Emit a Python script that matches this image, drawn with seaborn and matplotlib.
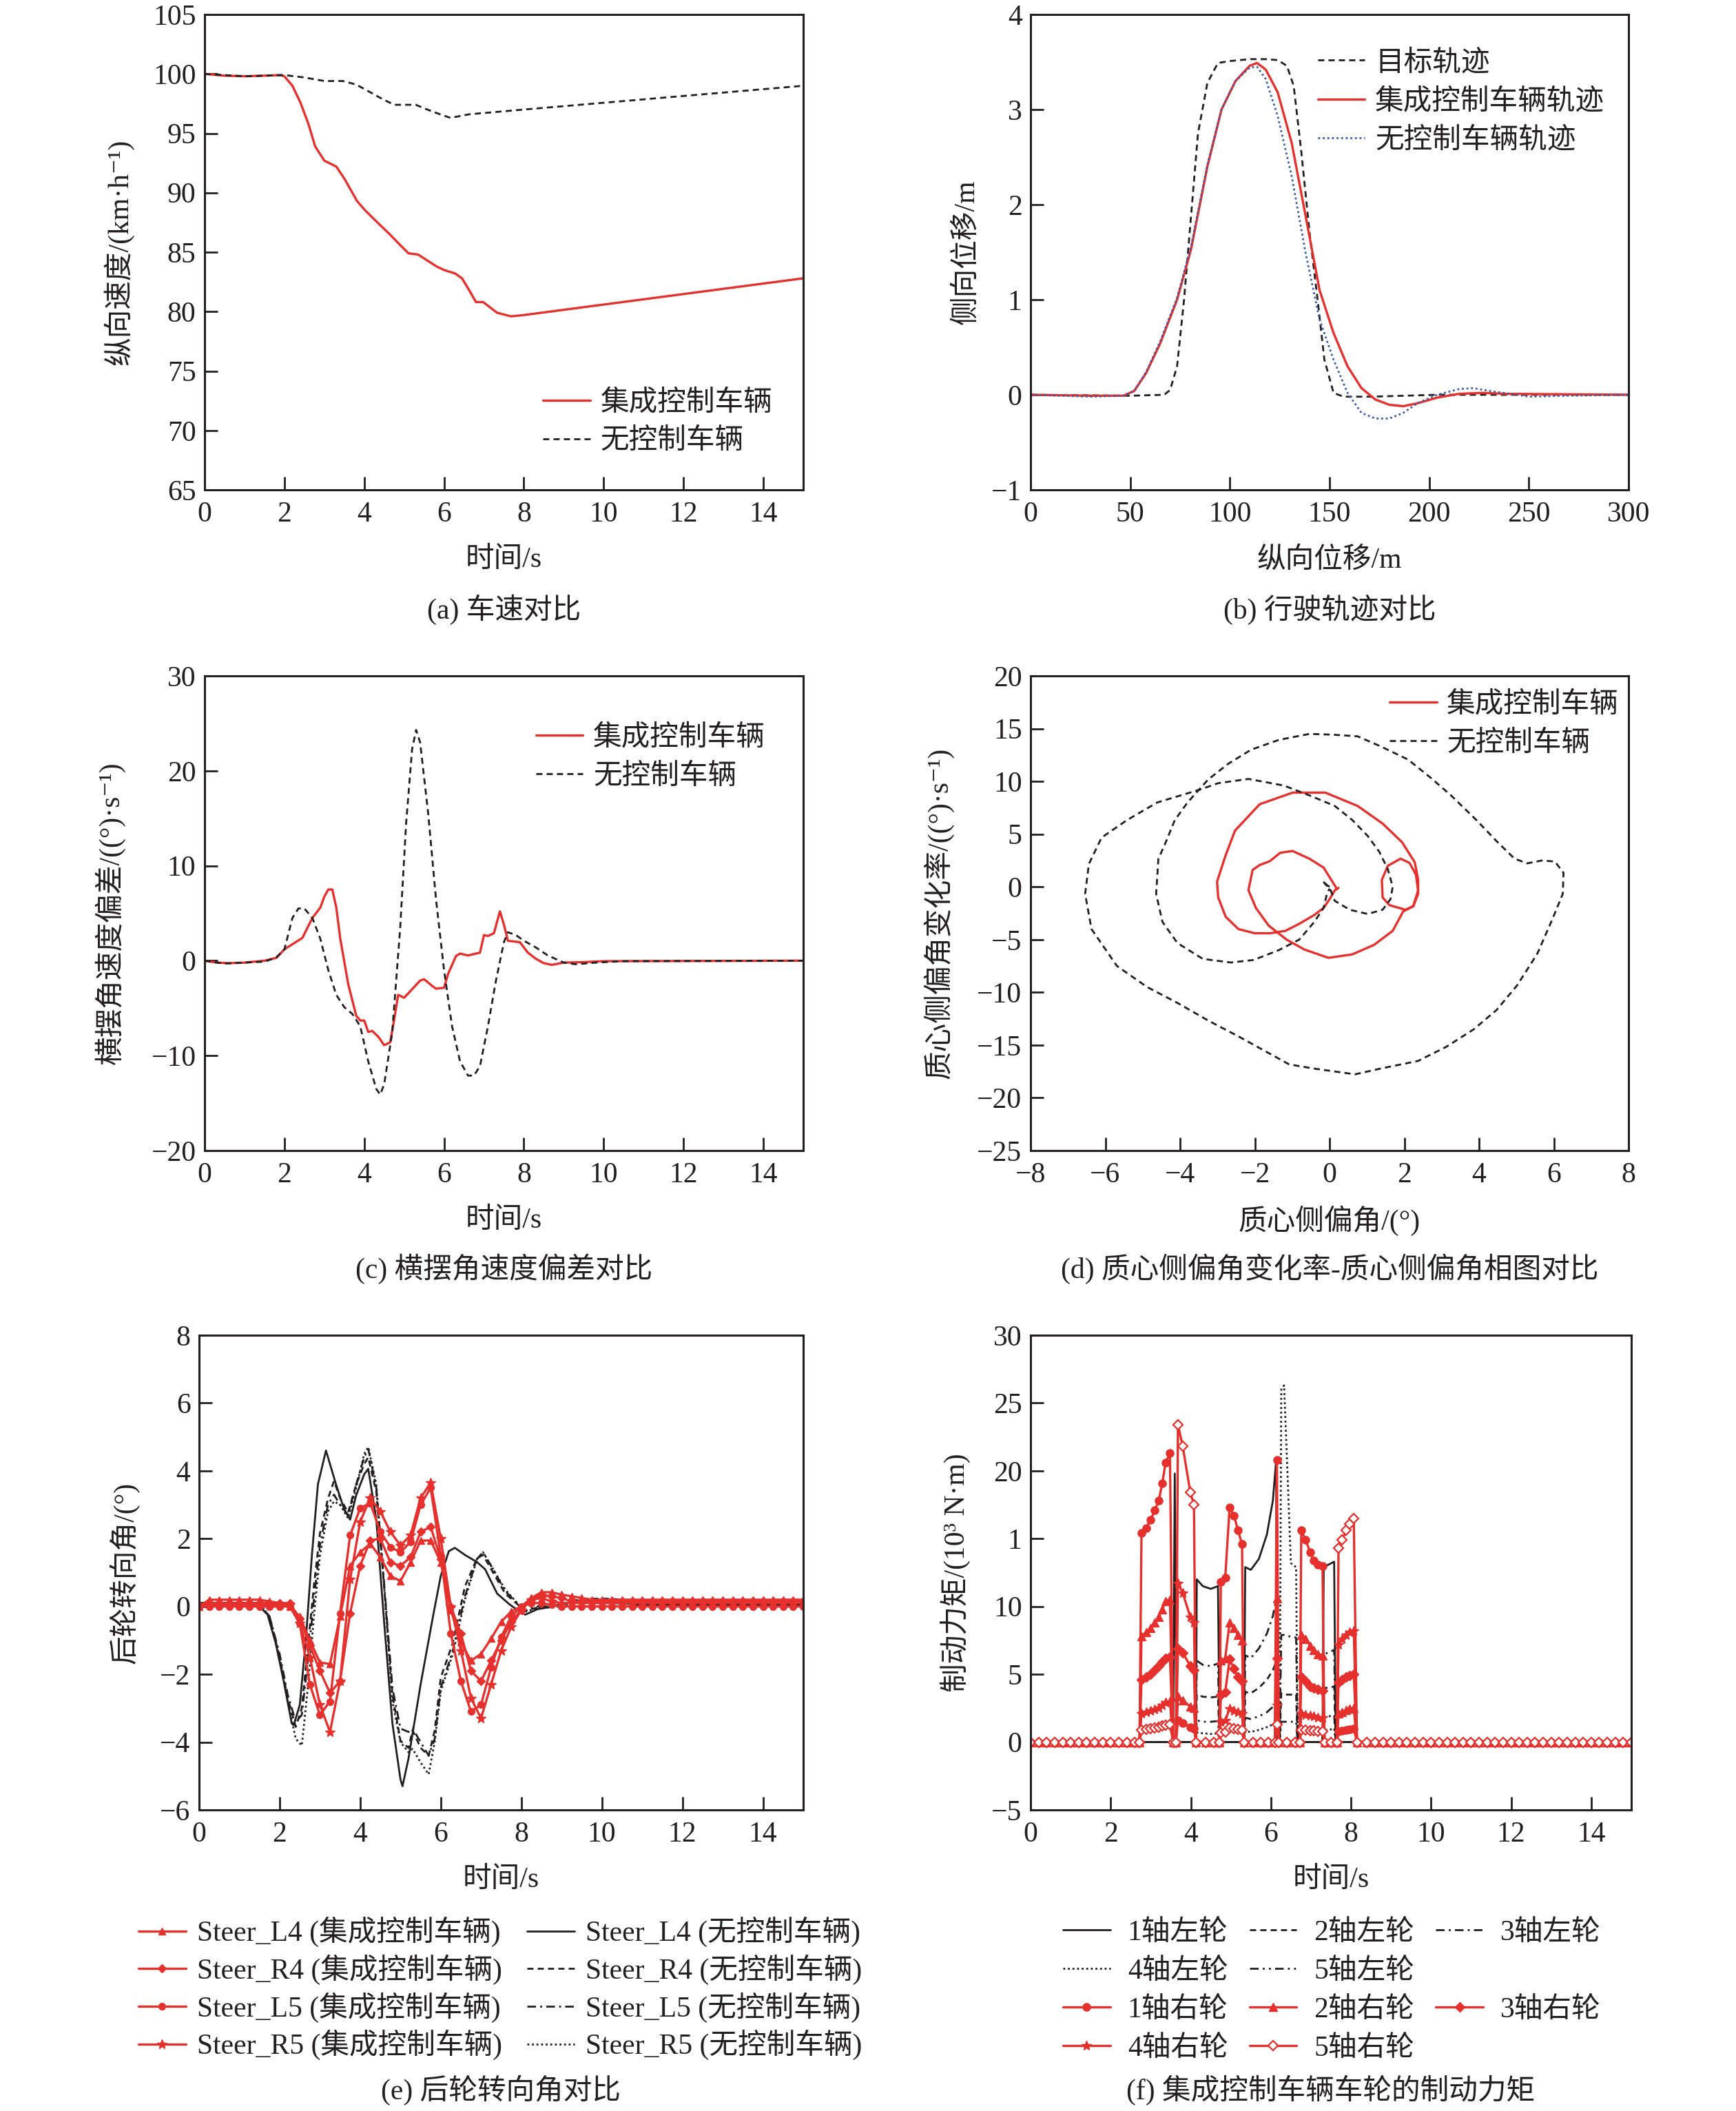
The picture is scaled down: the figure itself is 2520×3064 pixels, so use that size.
import numpy as np
import matplotlib
matplotlib.use('Agg')
import matplotlib.pyplot as plt
from matplotlib.lines import Line2D
import seaborn as sns

# ---------------- data ----------------
# (a) speed
a_t_ctrl = [0, 0.5, 1.0, 1.5, 1.9, 2.0, 2.2, 2.4, 2.6, 2.77, 3.0, 3.3, 3.5, 3.82, 4.0, 4.3, 4.64, 4.9, 5.11, 5.35, 5.81, 6.0, 6.28, 6.45, 6.63, 6.8, 6.98, 7.33, 7.68, 7.98, 15.0]
a_v_ctrl = [100.0, 99.85, 99.8, 99.85, 99.9, 99.8, 99.0, 97.6, 95.8, 93.9, 92.7, 92.2, 91.2, 89.3, 88.6, 87.6, 86.5, 85.6, 84.9, 84.8, 83.8, 83.5, 83.2, 82.8, 81.8, 80.8, 80.8, 79.9, 79.6, 79.7, 82.8]
a_t_none = [0, 1.0, 2.0, 2.5, 3.0, 3.47, 3.8, 4.18, 4.5, 4.76, 5.29, 5.58, 5.9, 6.16, 6.63, 8.0, 15.0]
a_v_none = [100.0, 99.8, 99.9, 99.7, 99.4, 99.4, 99.1, 98.4, 97.8, 97.4, 97.4, 97.0, 96.6, 96.3, 96.6, 97.0, 99.0]

# (b) trajectory
b_x_target = [0, 50, 67, 70, 73.5, 77, 80.5, 84, 88.7, 94, 100, 110, 118, 124, 128.6, 132, 135.7, 140, 144, 147.4, 152, 157, 171, 204, 300]
b_y_target = [0, -0.01, 0.0, 0.05, 0.3, 1.0, 1.88, 2.75, 3.28, 3.49, 3.51, 3.53, 3.53, 3.52, 3.46, 3.25, 2.58, 1.7, 1.0, 0.37, 0.02, -0.02, -0.02, 0.0, 0.0]
b_x_ctrl = [0, 30, 46.5, 52, 58, 65, 73.5, 80.5, 88.7, 95.8, 102.8, 109.9, 113.6, 118, 124, 131, 138, 145, 152, 159, 166, 173, 180, 187, 194, 204, 215, 227, 239, 300]
b_y_ctrl = [0, -0.01, -0.01, 0.04, 0.23, 0.54, 1.0, 1.53, 2.4, 3.0, 3.3, 3.46, 3.49, 3.42, 3.18, 2.65, 1.88, 1.1, 0.65, 0.3, 0.07, -0.05, -0.105, -0.12, -0.09, -0.03, 0.01, 0.02, 0.01, 0.0]
b_x_none = [0, 30, 46.5, 52, 58, 65, 73.5, 80.5, 88.7, 95.8, 102.8, 109.9, 113.6, 118, 124, 131, 138, 145, 152, 159, 166, 173, 180, 187, 194, 204, 215, 222, 232, 244, 250, 270, 300]
b_y_none = [0, -0.02, -0.01, 0.04, 0.24, 0.56, 1.02, 1.56, 2.42, 3.0, 3.3, 3.44, 3.45, 3.32, 2.93, 2.3, 1.49, 0.79, 0.37, 0.02, -0.19, -0.25, -0.25, -0.19, -0.09, 0.0, 0.06, 0.07, 0.035, 0.0, -0.02, -0.01, 0.0]

# (c) yaw rate deviation
c_t_ctrl = [0, 0.3, 0.6, 1.0, 1.5, 1.8, 2.0, 2.3, 2.45, 2.7, 2.9, 3.0, 3.1, 3.2, 3.3, 3.4, 3.6, 3.8, 3.9, 4.0, 4.1, 4.2, 4.35, 4.5, 4.65, 4.75, 4.85, 5.0, 5.2, 5.4, 5.5, 5.7, 5.8, 6.0, 6.1, 6.3, 6.4, 6.6, 6.9, 7.0, 7.1, 7.25, 7.4, 7.5, 7.6, 7.9, 8.1, 8.3, 8.5, 8.7, 9.0, 9.5, 10.0, 15.0]
c_v_ctrl = [0, -0.2, -0.26, -0.2, 0.0, 0.3, 1.2, 2.0, 2.4, 4.5, 5.6, 6.75, 7.5, 7.5, 5.6, 2.3, -2.5, -5.8, -6.3, -6.3, -7.5, -7.4, -8.0, -8.9, -8.6, -6.2, -3.6, -3.9, -3.0, -2.1, -1.95, -2.65, -2.95, -2.85, -1.4, 0.5, 0.75, 0.55, 0.85, 2.7, 2.6, 2.9, 5.2, 3.8, 2.1, 1.95, 0.85, 0.2, -0.26, -0.44, -0.2, -0.15, -0.05, 0.0]
c_t_none = [0, 0.5, 1.5, 1.8, 2.0, 2.2, 2.35, 2.5, 2.7, 2.9, 3.1, 3.3, 3.5, 3.7, 3.9, 4.1, 4.3, 4.4, 4.5, 4.7, 4.9, 5.05, 5.2, 5.3, 5.4, 5.6, 5.8, 6.0, 6.2, 6.4, 6.6, 6.75, 6.9, 7.1, 7.3, 7.5, 7.6, 7.8, 8.0, 8.3, 8.6, 9.0, 9.3, 9.8, 10.5, 15.0]
c_v_none = [0, -0.3, -0.1, 0.35, 1.2, 4.5, 5.5, 5.5, 4.5, 2.3, -1.0, -3.6, -4.9, -5.6, -6.9, -10.6, -13.5, -14.1, -13.0, -7.6, 3.4, 14.5, 22.3, 24.3, 23.0, 15.6, 6.4, -1.0, -6.9, -10.6, -12.1, -12.1, -11.1, -6.9, -2.1, 1.95, 3.0, 2.7, 2.1, 1.4, 0.55, -0.2, -0.37, -0.2, -0.05, 0.0]

# (d) phase plane (sideslip angle, sideslip rate)
d_x_ctrl = [0.18, -0.16, -0.54, -0.99, -1.32, -1.6, -1.87, -2.06, -2.17, -1.97, -1.63, -1.15, -0.68, -0.03, 0.61, 1.19, 1.69, 1.97, 2.24, 2.37, 2.31, 2.14, 1.9, 1.56, 1.4, 1.42, 1.6, 2.03, 2.24, 2.37, 2.37, 2.28, 1.94, 1.42, 0.75, -0.11, -0.99, -1.87, -2.53, -2.78, -3.01, -2.98, -2.78, -2.44, -2.0, -1.6, -1.18, -0.81, -0.41, -0.16, 0.0, 0.14, 0.24]
d_y_ctrl = [-0.1, 1.83, 2.67, 3.4, 3.23, 2.43, 2.07, 1.6, -0.33, -2.0, -3.67, -5.0, -5.93, -6.73, -6.4, -5.5, -4.17, -2.33, -1.83, -0.33, 1.17, 2.27, 2.67, 2.0, 0.67, -1.0, -1.73, -2.17, -1.83, -0.67, 0.67, 2.33, 4.23, 6.0, 7.67, 8.93, 8.93, 7.83, 5.33, 3.0, 0.5, -1.0, -2.83, -4.0, -4.4, -4.4, -4.17, -3.5, -2.67, -2.0, -1.17, -0.33, -0.1]
d_x_none = [0.0, -0.2, -0.14, 0.03, 0.14, 0.54, 1.02, 1.42, 1.63, 1.69, 1.56, 1.33, 1.02, 0.61, 0.14, -0.54, -1.22, -2.17, -2.98, -3.46, -4.61, -5.42, -6.1, -6.44, -6.54, -6.37, -5.69, -4.88, -4.07, -3.25, -2.44, -1.76, -1.08, -0.41, 0.68, 1.36, 2.37, 3.12, 3.86, 4.47, 5.02, 5.56, 5.97, 6.24, 6.26, 6.03, 5.69, 5.29, 4.95, 4.47, 3.93, 3.25, 2.71, 2.1, 1.36, 0.75, 0.07, -0.54, -1.36, -2.1, -2.71, -3.25, -3.8, -4.14, -4.41, -4.58, -4.64, -4.47, -4.07, -3.39, -2.64, -2.03, -1.36, -0.81, -0.41, -0.16, -0.07, 0.0]
d_y_none = [0.0, 0.5, 0.4, -0.33, -1.33, -2.17, -2.57, -2.17, -1.17, 0.0, 1.67, 3.33, 4.83, 6.33, 7.67, 8.67, 9.6, 10.23, 9.83, 9.23, 8.0, 6.33, 4.67, 2.17, -0.67, -4.0, -7.5, -9.5, -11.0, -12.67, -14.17, -15.5, -16.83, -17.23, -17.77, -17.23, -16.5, -15.17, -13.5, -11.67, -9.33, -6.33, -3.0, -0.67, 1.33, 2.4, 2.5, 2.23, 2.67, 4.33, 6.33, 8.67, 10.33, 12.07, 13.33, 14.27, 14.43, 14.5, 13.93, 13.0, 11.67, 10.17, 8.0, 6.33, 4.0, 2.67, -0.67, -3.33, -5.33, -6.83, -7.17, -6.93, -6.0, -5.0, -3.33, -2.0, -0.67, -0.17]

# (e) rear wheel steering angle
e_t_red = np.round(np.arange(0, 15.001, 0.25), 2)
e_L4_ctrl = [0.0, 0.2, 0.2, 0.2, 0.2, 0.2, 0.2, 0.15, 0.1, 0.0, -0.3, -1.0, -1.65, -1.7, -0.3, 1.2, 1.6, 1.85, 1.45, 0.9, 0.75, 1.3, 1.94, 1.95, 1.3, -0.1, -1.05, -1.6, -1.4, -0.95, -0.45, -0.15, 0.0, 0.25, 0.42, 0.42, 0.35, 0.3, 0.25] + [0.2] * 22
e_R4_ctrl = [0.0] + [0.1] * 9 + [-0.35, -1.15, -1.9, -2.55, -2.2, -0.2, 1.2, 1.95, 2.0, 1.3, 1.2, 1.45, 2.2, 2.35, 1.4, 0.0, -0.8, -1.9, -2.2, -1.6, -1.0, -0.45, -0.1, 0.2, 0.35, 0.3, 0.25] + [0.15] * 24
e_L5_ctrl = [0.0] + [0.0] * 9 + [-0.5, -2.3, -3.2, -2.8, -0.2, 2.1, 2.9, 3.05, 2.2, 1.75, 1.6, 1.9, 3.0, 3.5, 1.5, -0.8, -2.2, -3.1, -2.9, -1.8, -0.9, -0.3, 0.0, 0.1, 0.1, 0.05, 0.0] + [0.0] * 24
e_R5_ctrl = [0.05] + [0.05] * 9 + [-0.5, -1.5, -2.9, -3.7, -2.2, 0.8, 2.5, 3.2, 2.8, 2.2, 1.8, 2.1, 3.2, 3.65, 2.0, 0.0, -1.3, -2.7, -3.3, -2.3, -1.3, -0.6, -0.1, 0.2, 0.25, 0.15, 0.1] + [0.1] * 24

e_t_L4_none = [0, 0.5, 1.0, 1.5, 1.7, 1.9, 2.1, 2.3, 2.35, 2.5, 2.65, 2.8, 2.95, 3.15, 3.4, 3.6, 3.75, 3.9, 4.1, 4.2, 4.4, 4.6, 4.8, 5.0, 5.05, 5.2, 5.5, 5.8, 6.0, 6.2, 6.35, 6.6, 6.9, 7.1, 7.4, 7.7, 8.0, 8.1, 8.4, 8.8, 9.2, 9.5, 9.9, 10.3, 11.0, 15.0]
e_L4_none = [0.05, 0.05, 0.05, 0.0, -0.24, -1.07, -2.2, -3.45, -3.5, -2.9, -1.0, 1.5, 3.6, 4.6, 3.6, 2.87, 2.56, 3.28, 3.9, 4.06, 2.56, -0.55, -3.45, -5.1, -5.3, -4.48, -2.3, -0.34, 0.9, 1.63, 1.73, 1.52, 1.31, 1.1, 0.38, 0.07, -0.19, -0.24, -0.08, 0.0, 0.12, 0.18, 0.1, 0.1, 0.05, 0.05]
e_t_none = [0, 1.0, 1.5, 1.75, 2.0, 2.2, 2.4, 2.55, 2.7, 2.85, 3.0, 3.2, 3.35, 3.5, 3.7, 3.9, 4.1, 4.2, 4.4, 4.6, 4.8, 5.0, 5.2, 5.3, 5.5, 5.7, 5.85, 6.0, 6.3, 6.6, 6.9, 7.05, 7.3, 7.6, 7.9, 8.1, 8.4, 9.0, 9.5, 10.2, 11.0, 15.0]
e_R4_none = [0.1, 0.1, 0.1, -0.3, -1.5, -2.7, -3.55, -3.0, -1.2, 0.6, 2.15, 3.18, 3.7, 3.2, 2.77, 3.6, 4.2, 4.4, 3.38, 0.49, -2.6, -3.96, -4.17, -3.65, -4.17, -4.4, -3.65, -2.1, -1.07, 0.59, 1.42, 1.52, 1.0, 0.38, 0.07, -0.13, -0.03, 0.05, 0.23, 0.23, 0.15, 0.15]
e_L5_none = [0.1, 0.1, 0.1, -0.3, -1.4, -2.6, -3.4, -3.2, -1.6, 0.2, 1.8, 3.0, 3.3, 3.0, 2.7, 3.6, 4.4, 4.65, 3.5, 0.6, -2.4, -3.6, -3.7, -3.6, -4.0, -4.4, -3.9, -2.4, -1.3, 0.3, 1.4, 1.6, 1.1, 0.45, 0.1, -0.1, 0.0, 0.05, 0.2, 0.2, 0.12, 0.12]
e_R5_none = [0.05, 0.05, 0.05, -0.3, -1.5, -2.8, -3.9, -4.1, -2.4, -0.3, 1.5, 2.8, 3.1, 3.0, 2.6, 3.5, 4.5, 4.7, 3.6, 0.5, -2.8, -4.0, -4.3, -4.2, -4.6, -4.95, -4.0, -2.5, -1.4, 0.2, 1.4, 1.6, 1.1, 0.5, 0.1, -0.15, -0.05, 0.0, 0.15, 0.15, 0.08, 0.08]

# (f) braking torque, 10^3 N*m
f_t_left = [0, 3.56, 3.6, 3.64, 4.13, 4.15, 4.3, 4.5, 4.68, 4.72, 5.33, 5.36, 5.5, 5.7, 5.9, 6.05, 6.13, 6.17, 6.22, 6.26, 6.33, 6.4, 6.5, 6.63, 6.67, 7.29, 7.32, 7.45, 7.58, 7.62, 15.0]
f_1L = [0, 0, 19.8, 0, 0, 12.0, 11.5, 11.3, 11.5, 0, 0, 12.9, 12.7, 13.5, 15.3, 17.8, 20.7, 0, 0, 0, 0, 0, 0, 0, 0, 0, 12.9, 13.1, 13.3, 0, 0]
f_2L = [0, 0, 0, 0, 0, 3.5, 3.35, 3.3, 3.35, 0, 0, 3.7, 3.6, 4.0, 4.6, 5.3, 5.9, 0, 0, 3.6, 3.6, 3.5, 3.5, 3.5, 0, 0, 4.0, 4.0, 4.1, 0, 0]
f_3L = [0, 0, 0, 0, 0, 6.0, 5.7, 5.6, 5.8, 0, 0, 6.4, 6.2, 6.9, 8.0, 9.3, 10.5, 0, 0, 7.9, 7.9, 7.8, 7.8, 7.7, 0, 0, 6.5, 6.6, 6.8, 0, 0]
f_4L = [0, 0, 0, 0, 0, 0.7, 0.65, 0.6, 0.65, 0, 0, 0.8, 0.75, 0.9, 1.1, 1.3, 1.5, 0, 0, 26.0, 26.3, 21.0, 13.2, 12.9, 0, 0, 0.9, 0.9, 1.0, 0, 0]
f_5L = [0, 0, 0, 0, 0, 1.6, 1.5, 1.5, 1.55, 0, 0, 1.8, 1.7, 1.9, 2.2, 2.6, 3.0, 0, 0, 1.5, 1.5, 1.5, 1.5, 1.5, 0, 0, 1.9, 1.9, 2.0, 0, 0]

f_t_right = [0.0, 0.2, 0.4, 0.6, 0.8, 1.0, 1.2, 1.4, 1.6, 1.8, 2.0, 2.2, 2.4, 2.6, 2.72,
             2.77, 2.89, 3.0, 3.1, 3.2, 3.29, 3.37, 3.48,
             3.56, 3.63,
             3.68, 3.8, 3.99, 4.08,
             4.13, 4.37, 4.57, 4.72,
             4.75, 4.86, 4.97, 5.08, 5.18, 5.28,
             5.33, 5.55, 5.75, 5.93, 6.1,
             6.15,
             6.2, 6.4, 6.6, 6.72,
             6.76, 6.87, 6.98, 7.07, 7.18, 7.29,
             7.34, 7.5, 7.65,
             7.69, 7.78, 7.88, 7.97, 8.07,
             8.15] + list(np.round(np.arange(8.4, 15.001, 0.2), 2))
f_1R = [0] * 15 + [15.4, 15.8, 16.4, 17.1, 17.8, 19.1, 20.6, 21.3] + [0] * 2 + [1.6, 1.4, 1.1, 1.0] + [0] * 4 + [11.8, 12.1, 17.3, 16.7, 15.6, 14.6] + [0] * 5 + [20.8] + [0] * 4 + [15.6, 14.9, 14.0, 13.4, 13.1, 13.0] + [0] * 3 + [0.8, 0.85, 0.9, 0.95, 1.0] + [0] * 35
f_2R = [0] * 15 + [7.8, 8.1, 8.4, 8.8, 9.2, 9.8, 10.4, 10.5] + [0] * 2 + [3.4, 3.1, 2.6, 2.5] + [0] * 4 + [6.0, 6.2, 8.8, 8.4, 7.9, 7.5] + [0] * 5 + [10.6] + [0] * 4 + [7.9, 7.6, 7.1, 6.8, 6.5, 6.4] + [0] * 3 + [2.1, 2.2, 2.35, 2.45, 2.5] + [0] * 35
f_3R = [0] * 15 + [4.6, 4.8, 5.0, 5.3, 5.6, 5.9, 6.2, 6.3] + [0] * 2 + [6.9, 6.6, 5.6, 5.3] + [0] * 4 + [3.5, 3.7, 6.1, 5.4, 4.8, 4.5] + [0] * 5 + [6.2] + [0] * 4 + [4.8, 4.5, 4.1, 4.0, 3.9, 3.8] + [0] * 3 + [4.4, 4.6, 4.8, 4.9, 5.0] + [0] * 35
f_4R = [0] * 15 + [2.1, 2.2, 2.3, 2.4, 2.5, 2.7, 2.9, 3.0] + [0] * 2 + [11.7, 11.0, 9.2, 8.8] + [0] * 4 + [1.5, 1.6, 2.45, 2.3, 2.2, 2.1] + [0] * 5 + [2.7] + [0] * 4 + [2.1, 2.0, 1.95, 1.9, 1.8, 1.8] + [0] * 3 + [7.2, 7.6, 7.9, 8.1, 8.2] + [0] * 35
f_5R = [0] * 15 + [0.9, 0.95, 1.0, 1.05, 1.1, 1.2, 1.25, 1.3] + [0] * 2 + [23.4, 21.8, 18.4, 17.5] + [0] * 4 + [0.7, 0.75, 1.05, 1.0, 0.95, 0.9] + [0] * 5 + [1.3] + [0] * 4 + [0.9, 0.9, 0.85, 0.85, 0.8, 0.8] + [0] * 3 + [14.3, 14.9, 15.6, 16.1, 16.5] + [0] * 35
f_yticks = [-5, 0, 5, 10, 15, 20, 25, 30]
f_yticklabels = ['\u22125', '0', '5', '10', '1', '20', '25', '30']

# ---------------- style ----------------
sns.set_theme(style='white')
plt.rcParams['font.family'] = ['Liberation Serif', 'Noto Sans CJK SC', 'DejaVu Serif']
plt.rcParams['axes.unicode_minus'] = True
FS = 30
RED = '#e5302d'
BLK = '#231f20'
BLUE = '#3b5ca8'
LW_R = 2.4
LW_K = 2.0

fig = plt.figure(figsize=(25.2, 30.64), dpi=100)
W, H = 2520, 3064


def mk_ax(l, r, t, b):
    return fig.add_axes([l / W, 1 - b / H, (r - l) / W, (b - t) / H])


def style(ax, xlim, xticks, ylim, yticks, ylabels=None):
    ax.set_xlim(xlim)
    ax.set_ylim(ylim)
    ax.set_xticks(xticks)
    ax.set_yticks(yticks)
    if ylabels is not None:
        ax.set_yticklabels(ylabels)
    ax.tick_params(direction='in', length=14, width=2, color=BLK, labelcolor=BLK,
                   labelsize=FS, top=False, right=False, bottom=True, left=True)
    ax.tick_params(axis='x', pad=12)
    ax.tick_params(axis='y', pad=9)
    for s in ax.spines.values():
        s.set_visible(True)
        s.set_color(BLK)
        s.set_linewidth(2.2)
    ax.grid(False)
    ax.set_facecolor('white')


def labels(ax, xl, yl, xl_y, yl_x, cap, cap_y):
    ax.set_xlabel(xl, fontsize=FS, color=BLK)
    ax.set_ylabel(yl, fontsize=FS, color=BLK)
    ax.xaxis.label.set_va('center')
    ax.yaxis.label.set_va('center')
    ax.xaxis.set_label_coords(0.5, xl_y)
    ax.yaxis.set_label_coords(yl_x, 0.5)
    bb = ax.get_position()
    fig.text((bb.x0 + bb.x1) / 2, cap_y, cap, fontsize=FS, color=BLK, ha='center', va='center')


def line(ax, x, y, color, ls='-', lw=LW_K, label=None, **kw):
    sns.lineplot(x=list(x), y=list(y), ax=ax, color=color, linestyle=ls, linewidth=lw,
                 sort=False, estimator=None, legend=False, label=label, **kw)


DASH = (0, (3.2, 2.2))
DOT = (0, (1, 1.4))
DASHDOT = (0, (4.5, 2.2, 1.0, 2.2))
DASHDOTDOT = (0, (4.5, 2.2, 1.0, 2.2, 1.0, 2.2))
LEG = dict(frameon=False, fontsize=FS, handlelength=1.65, handletextpad=0.35,
           labelspacing=0.42, borderpad=0, borderaxespad=0, labelcolor=BLK, loc='upper left')

# (a)
ax = mk_ax(297, 1166, 21, 711)
line(ax, a_t_ctrl, a_v_ctrl, RED, '-', LW_R, '集成控制车辆')
line(ax, a_t_none, a_v_none, BLK, DASH, LW_K, '无控制车辆')
style(ax, (0, 15), range(0, 15, 2), (65, 105), range(65, 106, 5))
ax.legend(bbox_to_anchor=(0.565, 0.211), **LEG)
labels(ax, '时间/s', '纵向速度/(km·h⁻¹)', -0.148, -0.144, '(a) 车速对比', 1 - 885 / H)

# (b)
ax = mk_ax(1496, 2364, 21, 711)
line(ax, b_x_target, b_y_target, BLK, DASH, LW_K, '目标轨迹')
line(ax, b_x_ctrl, b_y_ctrl, RED, '-', LW_R, '集成控制车辆轨迹')
line(ax, b_x_none, b_y_none, BLUE, DOT, 2.0, '无控制车辆轨迹')
style(ax, (0, 300), range(0, 301, 50), (-1, 4), range(-1, 5, 1))
ax.legend(bbox_to_anchor=(0.48, 0.926), **LEG)
labels(ax, '纵向位移/m', '侧向位移/m', -0.148, -0.107, '(b) 行驶轨迹对比', 1 - 885 / H)

# (c)
ax = mk_ax(297, 1166, 981, 1670)
line(ax, c_t_ctrl, c_v_ctrl, RED, '-', LW_R, '集成控制车辆')
line(ax, c_t_none, c_v_none, BLK, DASH, LW_K, '无控制车辆')
style(ax, (0, 15), range(0, 15, 2), (-20, 30), range(-20, 31, 10))
ax.legend(bbox_to_anchor=(0.553, 0.897), **LEG)
labels(ax, '时间/s', '横摆角速度偏差/((°)·s⁻¹)', -0.148, -0.158, '(c) 横摆角速度偏差对比', 1 - 1842 / H)

# (d)
ax = mk_ax(1496, 2364, 981, 1670)
line(ax, d_x_ctrl, d_y_ctrl, RED, '-', LW_R, '集成控制车辆')
line(ax, d_x_none, d_y_none, BLK, DASH, LW_K, '无控制车辆')
style(ax, (-8, 8), range(-8, 9, 2), (-25, 20), range(-25, 21, 5))
ax.legend(bbox_to_anchor=(0.60, 0.967), **LEG)
labels(ax, '质心侧偏角/(°)', '质心侧偏角变化率/((°)·s⁻¹)', -0.148, -0.154,
       '(d) 质心侧偏角变化率-质心侧偏角相图对比', 1 - 1842 / H)

# (e)
ax = mk_ax(289, 1166, 1938, 2627)
line(ax, e_t_L4_none, e_L4_none, BLK, '-', LW_K, 'Steer_L4 (无控制车辆)')
line(ax, e_t_none, e_R4_none, BLK, DASH, LW_K, 'Steer_R4 (无控制车辆)')
line(ax, e_t_none, e_L5_none, BLK, DASHDOT, LW_K, 'Steer_L5 (无控制车辆)')
line(ax, e_t_none, e_R5_none, BLK, DOT, LW_K, 'Steer_R5 (无控制车辆)')
mk = dict(markeredgecolor=RED, markerfacecolor=RED, markeredgewidth=1)
line(ax, e_t_red, e_L4_ctrl, RED, '-', LW_R, 'Steer_L4 (集成控制车辆)', marker='^', markersize=7, **mk)
line(ax, e_t_red, e_R4_ctrl, RED, '-', LW_R, 'Steer_R4 (集成控制车辆)', marker='D', markersize=6, **mk)
line(ax, e_t_red, e_L5_ctrl, RED, '-', LW_R, 'Steer_L5 (集成控制车辆)', marker='o', markersize=7, **mk)
line(ax, e_t_red, e_R5_ctrl, RED, '-', LW_R, 'Steer_R5 (集成控制车辆)', marker='*', markersize=10, **mk)
style(ax, (0, 15), range(0, 15, 2), (-6, 8), range(-6, 9, 2))
h, l = ax.get_legend_handles_labels()
order = [4, 5, 6, 7, 0, 1, 2, 3]
fig.legend([h[i] for i in order], [l[i] for i in order], ncol=2,
           bbox_to_anchor=(201 / W, 1 - 2782 / H), frameon=False, fontsize=FS,
           handlelength=1.65, handletextpad=0.4, labelspacing=0.25, columnspacing=0.85,
           borderpad=0, borderaxespad=0, labelcolor=BLK, loc='upper left')
labels(ax, '时间/s', '后轮转向角/(°)', -0.148, -0.124, '(e) 后轮转向角对比', 1 - 3034 / H)

# (f)
ax = mk_ax(1496, 2368, 1938, 2627)
line(ax, f_t_left, f_1L, BLK, '-', LW_K, '1轴左轮')
line(ax, f_t_left, f_2L, BLK, DASH, LW_K, '2轴左轮')
line(ax, f_t_left, f_3L, BLK, DASHDOT, LW_K, '3轴左轮')
line(ax, f_t_left, f_4L, BLK, DOT, LW_K, '4轴左轮')
line(ax, f_t_left, f_5L, BLK, DASHDOTDOT, LW_K, '5轴左轮')
line(ax, f_t_right, f_1R, RED, '-', LW_R, '1轴右轮', marker='o', markersize=8, **mk)
line(ax, f_t_right, f_2R, RED, '-', LW_R, '2轴右轮', marker='^', markersize=8, **mk)
line(ax, f_t_right, f_3R, RED, '-', LW_R, '3轴右轮', marker='D', markersize=7, **mk)
line(ax, f_t_right, f_4R, RED, '-', LW_R, '4轴右轮', marker='*', markersize=10, **mk)
line(ax, f_t_right, f_5R, RED, '-', LW_R, '5轴右轮', marker='D', markersize=7,
     markeredgecolor=RED, markerfacecolor='white', markeredgewidth=1.6)
style(ax, (0, 15), range(0, 15, 2), (-5, 30), f_yticks, f_yticklabels)
h, l = ax.get_legend_handles_labels()
blank = Line2D([], [], alpha=0)
hh = [h[0], h[3], h[5], h[8], h[1], h[4], h[6], h[9], h[2], blank, h[7], blank]
ll = [l[0], l[3], l[5], l[8], l[1], l[4], l[6], l[9], l[2], '', l[7], '']
fig.legend(hh, ll, ncol=3,
           bbox_to_anchor=(1543 / W, 1 - 2786 / H), frameon=False, fontsize=FS,
           handlelength=1.65, handletextpad=0.6, labelspacing=0.42, columnspacing=0.75,
           borderpad=0, borderaxespad=0, labelcolor=BLK, loc='upper left')
labels(ax, '时间/s', '制动力矩/(10³ N·m)', -0.148, -0.125, '(f) 集成控制车辆车轮的制动力矩', 1 - 3034 / H)

fig.savefig('out.png', dpi=100, facecolor='white')
